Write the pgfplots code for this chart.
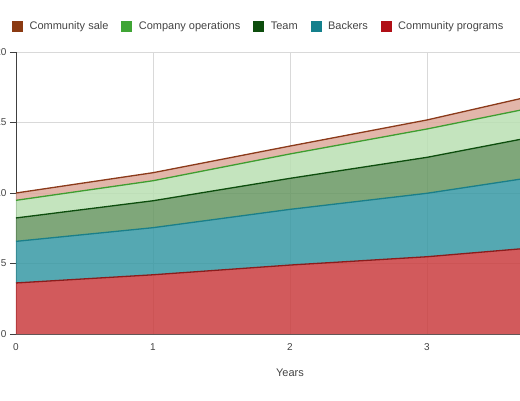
\documentclass[border=0pt]{standalone}
\usepackage{fontspec}
\setmainfont{Liberation Sans}
\usepackage{pgfplots}
\pgfplotsset{compat=1.18}
\usepgfplotslibrary{fillbetween}

% stacked tops of each band (cumulative)
\pgfplotstableread{
x    prog   back   team   comp   sale
0    3.62   6.57   8.23   9.48   10.00
1    4.20   7.54   9.45   10.87  11.44
2    4.89   8.84   11.04  12.77  13.33
3    5.48   9.98   12.53  14.54  15.18
4    6.30   11.45  14.40  16.50  17.40
}\datatable

\definecolor{saleL}{HTML}{8B3A1A}
\definecolor{compL}{HTML}{3E9E30}
\definecolor{teamL}{HTML}{0D4D0D}
\definecolor{backL}{HTML}{1A7F8A}
\definecolor{progL}{HTML}{8C1C1C}
\definecolor{saleF}{RGB}{221,169,155}
\definecolor{compF}{RGB}{186,223,179}
\definecolor{teamF}{RGB}{104,152,99}
\definecolor{backF}{RGB}{55,153,164}
\definecolor{progF}{RGB}{202,61,63}
\definecolor{saleK}{HTML}{8B3A12}
\definecolor{compK}{HTML}{3FA535}
\definecolor{teamK}{HTML}{0D4D0D}
\definecolor{backK}{HTML}{14808C}
\definecolor{progK}{HTML}{B00F16}
\definecolor{txt}{HTML}{444444}

\pgfplotsset{legsq/.style={legend image code/.code={\fill[#1] (0pt,-5pt) rectangle (10pt,5pt);}}}

\begin{document}
\begin{tikzpicture}
\begin{axis}[
scale only axis,
width=548pt, height=282pt,
xmin=0, xmax=4, ymin=0, ymax=20,
xtick={0,1,2,3}, ytick={0,5,10,15,20},
extra x ticks={4}, extra x tick labels={},
axis x line*=bottom, axis y line*=left,
x axis line style={draw=black!65, line width=0.8pt},
y axis line style={draw=black!75, line width=0.8pt},
grid=major,
major grid style={draw=black!15, line width=0.6pt},
xtick style={draw=none},
ytick style={draw=black!75, line width=0.8pt},
tick align=outside, major tick length=6pt,
/pgf/number format/assume math mode=true,
tick label style={font=\fontsize{10}{12}\selectfont, text=txt},
xlabel={Years},
xlabel style={font=\fontsize{11}{13}\selectfont, text=txt, at={(axis description cs:0.5,-0.1383)}, anchor=center},
legend columns=-1,
legend style={at={(-0.0073,1.092)}, anchor=west, draw=none, fill=none,
  font=\fontsize{11}{13}\selectfont, text=txt, inner xsep=0pt,
  /tikz/every odd column/.append style={column sep=5pt},
  /tikz/every even column/.append style={column sep=11pt}},
legend cell align=left,
]
\addplot[name path=p, draw=none, forget plot] table[x=x, y=prog] {\datatable};
\addplot[name path=b, draw=none, forget plot] table[x=x, y=back] {\datatable};
\addplot[name path=t, draw=none, forget plot] table[x=x, y=team] {\datatable};
\addplot[name path=c, draw=none, forget plot] table[x=x, y=comp] {\datatable};
\addplot[name path=s, draw=none, forget plot] table[x=x, y=sale] {\datatable};
\addplot[name path=z, draw=none, forget plot] coordinates {(0,0) (4,0)};

\addplot[progF, fill opacity=0.85, forget plot] fill between[of=p and z];
\addplot[backF, fill opacity=0.85, forget plot] fill between[of=b and p];
\addplot[teamF, fill opacity=0.85, forget plot] fill between[of=t and b];
\addplot[compF, fill opacity=0.85, forget plot] fill between[of=c and t];
\addplot[saleF, fill opacity=0.85, forget plot] fill between[of=s and c];

\addplot[progL, line width=1.3pt, forget plot] table[x=x, y=prog] {\datatable};
\addplot[backL, line width=1.3pt, forget plot] table[x=x, y=back] {\datatable};
\addplot[teamL, line width=1.3pt, forget plot] table[x=x, y=team] {\datatable};
\addplot[compL, line width=1.3pt, forget plot] table[x=x, y=comp] {\datatable};
\addplot[saleL, line width=1.3pt, forget plot] table[x=x, y=sale] {\datatable};

\addlegendimage{legsq=saleK}\addlegendentry{Community sale}
\addlegendimage{legsq=compK}\addlegendentry{Company operations}
\addlegendimage{legsq=teamK}\addlegendentry{Team}
\addlegendimage{legsq=backK}\addlegendentry{Backers}
\addlegendimage{legsq=progK}\addlegendentry{Community programs}
\end{axis}
\pgfresetboundingbox
\useasboundingbox (-16pt,-66pt) rectangle (504pt,334pt);
\end{tikzpicture}
\end{document}
